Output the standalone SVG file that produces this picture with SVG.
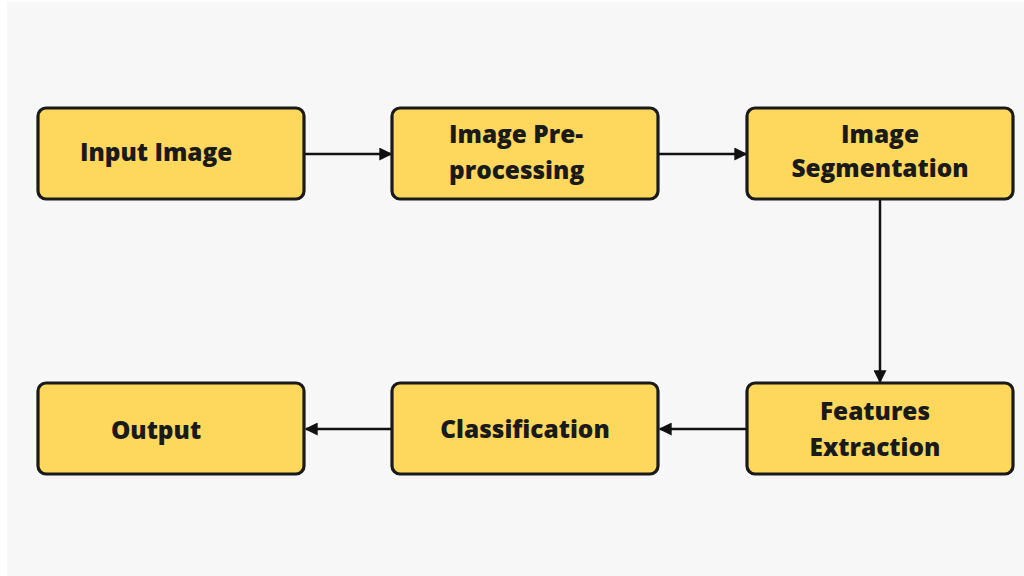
<svg xmlns="http://www.w3.org/2000/svg" width="1024" height="576" viewBox="0 0 1024 576">
<defs>
<style>
.box{fill:#fdd85d;stroke:#1a1a1a;stroke-width:3.2}
.t{font-family:"Open Sans","Liberation Sans",sans-serif;font-weight:800;font-size:24.4px;fill:#1a1a1a}
.c{stroke:#111;stroke-width:2.5;fill:none}
</style>
<marker id="ah" viewBox="0 0 10 10" refX="9" refY="5" markerWidth="5.2" markerHeight="5.2" orient="auto" markerUnits="strokeWidth">
<path d="M0,0 L10,5 L0,10 Z" fill="#111"/>
</marker>
</defs>
<rect x="0" y="0" width="1024" height="576" fill="#ffffff"/>
<rect x="7" y="2" width="1017" height="574" fill="#f7f7f7"/>
<g id="connectors">
<line class="c" x1="305" y1="154" x2="391" y2="154" marker-end="url(#ah)"/>
<line class="c" x1="659" y1="154" x2="746" y2="154" marker-end="url(#ah)"/>
<line class="c" x1="880" y1="200" x2="880" y2="382" marker-end="url(#ah)"/>
<line class="c" x1="746" y1="429" x2="660" y2="429" marker-end="url(#ah)"/>
<line class="c" x1="391" y1="429" x2="306" y2="429" marker-end="url(#ah)"/>
</g>
<g id="n1"><rect class="box" x="38" y="108" width="266" height="91" rx="8"/><text class="t" x="80" y="161">Input Image</text></g>
<g id="n2"><rect class="box" x="392" y="108" width="266" height="91" rx="8"/><text class="t" x="449" y="143">Image Pre-</text><text class="t" x="449" y="179">processing</text></g>
<g id="n3"><rect class="box" x="747" y="108" width="266" height="91" rx="8"/><text class="t" x="880" y="143" text-anchor="middle">Image</text><text class="t" x="880" y="177" text-anchor="middle">Segmentation</text></g>
<g id="n4"><rect class="box" x="747" y="383" width="266" height="91" rx="8"/><text class="t" x="875" y="420" text-anchor="middle">Features</text><text class="t" x="875" y="456" text-anchor="middle">Extraction</text></g>
<g id="n5"><rect class="box" x="392" y="383" width="266" height="91" rx="8"/><text class="t" x="525" y="438" text-anchor="middle">Classification</text></g>
<g id="n6"><rect class="box" x="38" y="383" width="266" height="91" rx="8"/><text class="t" x="156" y="439" text-anchor="middle">Output</text></g>
</svg>
